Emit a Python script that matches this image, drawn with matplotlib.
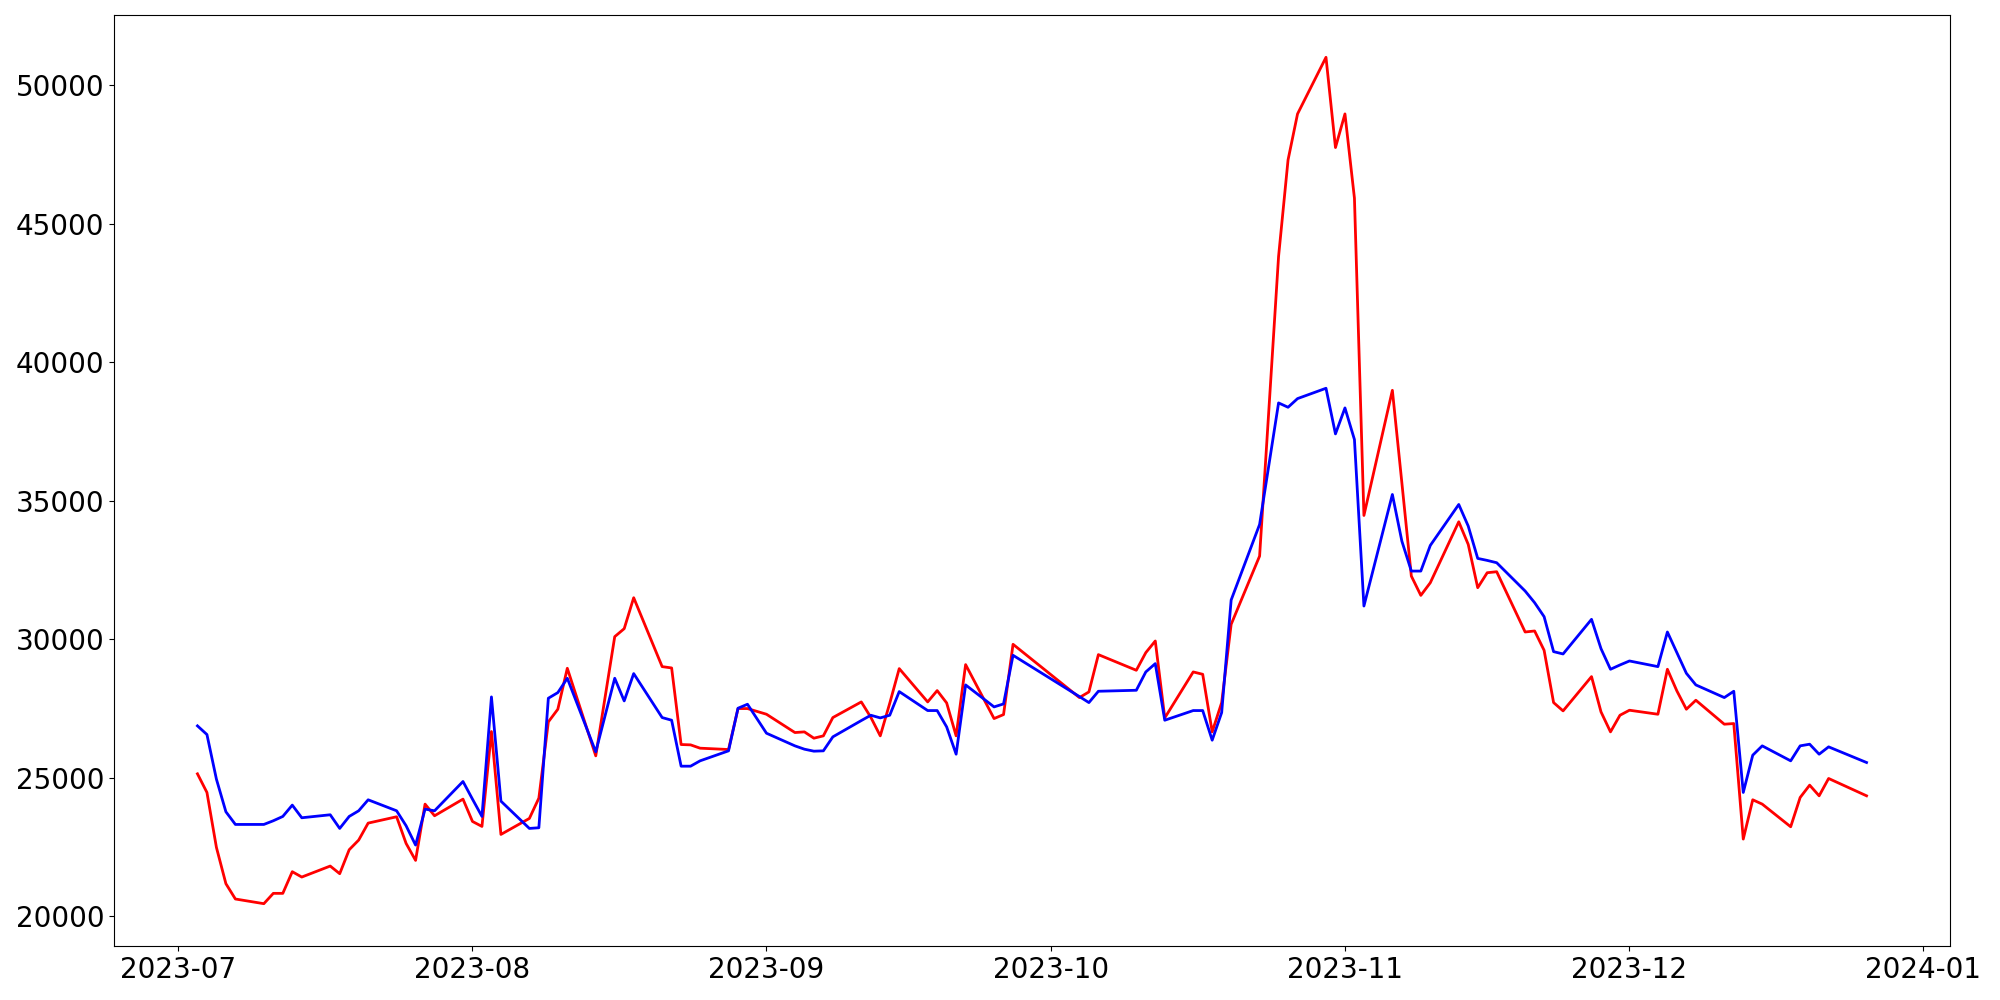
import pandas as pd
import matplotlib
matplotlib.use("Agg")
from matplotlib import pyplot as plt

# weekdays from 2023-07-03 to 2023-12-26, some days have no data
start_day = '2023-07-03'
end_day = '2023-12-26'
missing_days = ['2023-08-15', '2023-08-31', '2023-09-28', '2023-09-29',
                '2023-10-02', '2023-10-03', '2023-10-09', '2023-10-24',
                '2023-12-25']

blue_vals = [
    26867, 26554, 24942, 23764, 23307, 23307, 23440, 23596, 24005, 23548,
    23656, 23163, 23596, 23800, 24197, 23800, 23260, 22562, 23860, 23800,
    24858,
    24221, 23596, 27913, 24149, 23163, 23187, 27865, 28069, 28586, 25928,
    28586, 27768, 28755, 27167, 27071, 25411, 25411, 25604, 25965, 27504,
    27648,
    26602, 26145, 26025, 25953, 25965, 26470, 27059, 27251, 27155, 27251,
    28105, 27420, 27420, 26830, 25844, 28346, 27552, 27660, 29416,
    27925, 27708, 28117, 28153, 28815, 29115, 27071, 27420, 27420, 26350,
    27348, 31412, 34142, 38531, 38374, 38687, 39060, 37412,
    38350, 37208, 31195, 35224, 33540, 32458, 32458, 33384, 34863, 34082,
    32915, 32843, 32759, 31737, 31316, 30811, 29548, 29464, 30715, 29656,
    28911, 29067,
    29211, 29007, 30258, 29512, 28767, 28346, 27889, 28117, 24462, 25808,
    26145, 25604, 26145, 26205, 25844, 26109, 25544,
]

red_vals = [
    25135, 24462, 22477, 21167, 20614, 20445, 20818, 20818, 21600, 21407,
    21804, 21528, 22393, 22742, 23355, 23584, 22622, 22009, 24041, 23620,
    24221,
    23415, 23235, 26662, 22946, 23524, 24257, 27011, 27468, 28947, 25784,
    30089, 30378, 31496, 29007, 28959, 26193, 26181, 26061, 26013, 27492,
    27492,
    27287, 26626, 26650, 26422, 26506, 27167, 27732, 27179, 26506, 27684,
    28935, 27732, 28141, 27696, 26506, 29079, 27131, 27275, 29813,
    27889, 28093, 29440, 28875, 29512, 29933, 27155, 28815, 28730, 26650,
    27708, 30534, 33000, 43822, 47309, 48969, 51013, 47754,
    48969, 45926, 34466, 38986, 35650, 32278, 31580, 32037, 34238, 33420,
    31857, 32398, 32434, 30258, 30294, 29596, 27708, 27408, 28646, 27372,
    26650, 27251,
    27432, 27287, 28911, 28129, 27468, 27793, 26927, 26951, 22778, 24197,
    24041, 23223, 24281, 24726, 24341, 24967, 24341,
]

dates = pd.bdate_range(start_day, end_day)
dates = dates.drop(pd.to_datetime(missing_days))

plt.rcParams['font.size'] = 20
fig = plt.figure(figsize=(20, 10), dpi=100)
ax = fig.add_axes([0.057, 0.054, 0.918, 0.931])
ax.plot(dates, red_vals, color='red', linewidth=2)
ax.plot(dates, blue_vals, color='blue', linewidth=2)

fig.savefig('out.png')
